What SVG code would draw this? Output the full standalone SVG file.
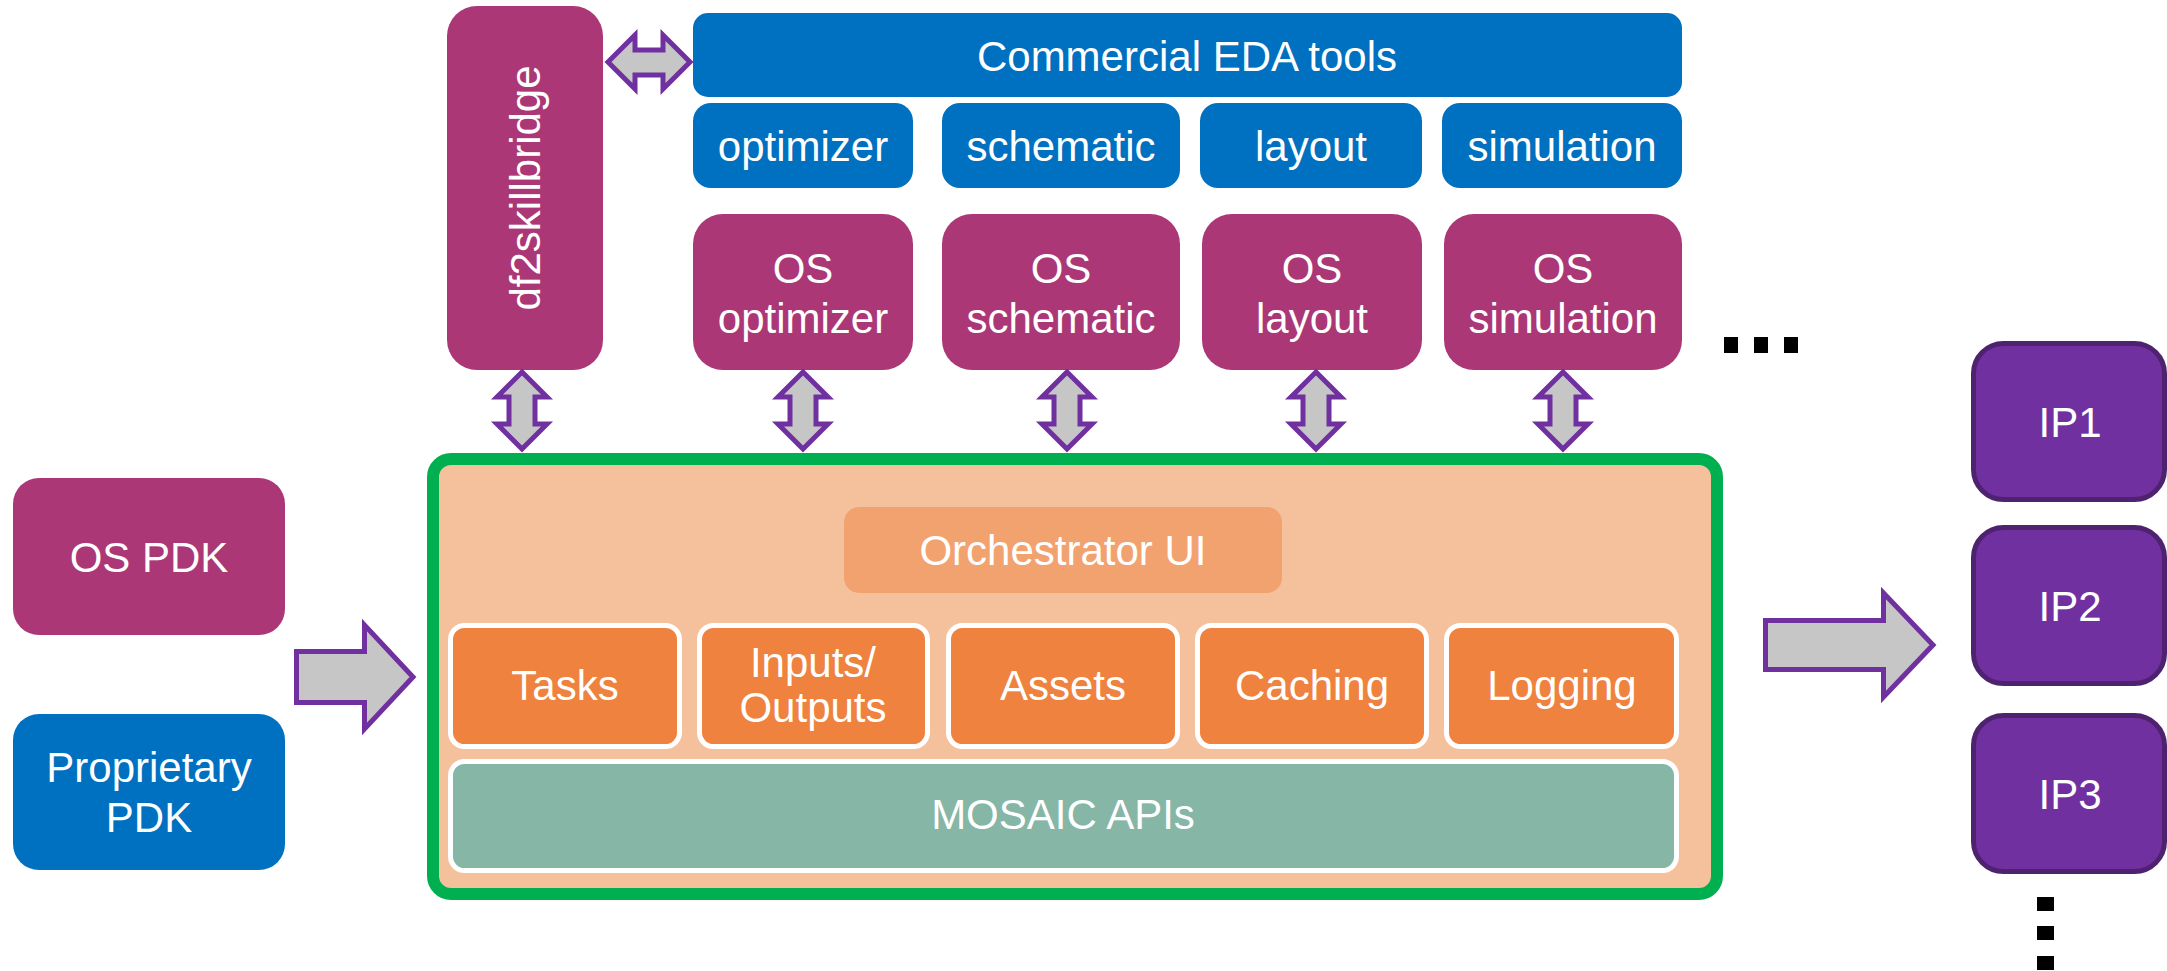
<svg xmlns="http://www.w3.org/2000/svg" xmlns:xlink="http://www.w3.org/1999/xlink" width="2167" height="971" viewBox="0 0 2167 971">
<style>
text{font-family:"Liberation Sans",Arial,sans-serif;font-size:42px;fill:#fff;text-anchor:middle}
.mag{fill:#AB3777}
.blue{fill:#0070C0}
.ip{fill:#7030A0;stroke:#4F2270;stroke-width:5}
.mod{fill:#EE823E;stroke:#fff;stroke-width:5}
.arr{fill:#C6C6C6;stroke:#7030A0;stroke-width:5;stroke-linejoin:miter}
.dot{fill:#000}
</style>
<defs>
<path id="vArrow" class="arr" d="M0,372 L25,397 L13,397 L13,424 L25,424 L0,449 L-25,424 L-13,424 L-13,397 L-25,397 Z"/>
</defs>
<rect width="2167" height="971" fill="#fff"/>

<g id="df2skillbridge">
<rect class="mag" x="447" y="6" width="156" height="364" rx="30"/>
<text transform="translate(540,188) rotate(-90)">df2skillbridge</text>
</g>

<g id="commercial">
<rect class="blue" x="693" y="13" width="989" height="84" rx="15"/>
<text x="1187" y="71">Commercial EDA tools</text>
</g>
<g id="optimizer"><rect class="blue" x="693" y="103" width="220" height="85" rx="18"/><text x="803" y="161">optimizer</text></g>
<g id="schematic"><rect class="blue" x="942" y="103" width="238" height="85" rx="18"/><text x="1061" y="161">schematic</text></g>
<g id="layout"><rect class="blue" x="1200" y="103" width="222" height="85" rx="18"/><text x="1311" y="161">layout</text></g>
<g id="simulation"><rect class="blue" x="1442" y="103" width="240" height="85" rx="18"/><text x="1562" y="161">simulation</text></g>

<g id="os-optimizer"><rect class="mag" x="693" y="214" width="220" height="156" rx="30"/><text x="803" y="283">OS</text><text x="803" y="333">optimizer</text></g>
<g id="os-schematic"><rect class="mag" x="942" y="214" width="238" height="156" rx="30"/><text x="1061" y="283">OS</text><text x="1061" y="333">schematic</text></g>
<g id="os-layout"><rect class="mag" x="1202" y="214" width="220" height="156" rx="30"/><text x="1312" y="283">OS</text><text x="1312" y="333">layout</text></g>
<g id="os-simulation"><rect class="mag" x="1444" y="214" width="238" height="156" rx="30"/><text x="1563" y="283">OS</text><text x="1563" y="333">simulation</text></g>

<g id="hdots">
<rect class="dot" x="1724" y="337" width="14" height="16"/>
<rect class="dot" x="1754" y="337" width="14" height="16"/>
<rect class="dot" x="1784" y="337" width="14" height="16"/>
</g>

<g id="os-pdk"><rect class="mag" x="13" y="478" width="272" height="157" rx="26"/><text x="149" y="572">OS PDK</text></g>
<g id="proprietary-pdk"><rect class="blue" x="13" y="714" width="272" height="156" rx="26"/><text x="149" y="782">Proprietary</text><text x="149" y="832">PDK</text></g>

<g id="orchestrator">
<rect x="433" y="459" width="1284" height="435" rx="18" fill="#F5C19C" stroke="#00B050" stroke-width="12"/>
<g id="orchestrator-ui"><rect x="844" y="507" width="438" height="86" rx="15" fill="#F2A26F"/><text x="1063" y="565">Orchestrator UI</text></g>
<g id="tasks"><rect class="mod" x="450.5" y="625.5" width="229" height="121" rx="14"/><text x="565" y="700">Tasks</text></g>
<g id="inputs-outputs"><rect class="mod" x="699.5" y="625.5" width="228" height="121" rx="14"/><text x="813" y="677">Inputs/</text><text x="813" y="722">Outputs</text></g>
<g id="assets"><rect class="mod" x="948.5" y="625.5" width="229" height="121" rx="14"/><text x="1063" y="700">Assets</text></g>
<g id="caching"><rect class="mod" x="1197.5" y="625.5" width="229" height="121" rx="14"/><text x="1312" y="700">Caching</text></g>
<g id="logging"><rect class="mod" x="1446.5" y="625.5" width="230" height="121" rx="14"/><text x="1562" y="700">Logging</text></g>
<g id="mosaic-apis"><rect x="450.5" y="761.5" width="1226" height="109" rx="14" fill="#86B6A6" stroke="#fff" stroke-width="5"/><text x="1063" y="829">MOSAIC APIs</text></g>
</g>

<g id="ip1"><rect class="ip" x="1973.5" y="343.5" width="191" height="156" rx="30"/><text x="2070" y="437">IP1</text></g>
<g id="ip2"><rect class="ip" x="1973.5" y="527.5" width="191" height="156" rx="30"/><text x="2070" y="621">IP2</text></g>
<g id="ip3"><rect class="ip" x="1973.5" y="715.5" width="191" height="156" rx="30"/><text x="2070" y="809">IP3</text></g>

<g id="vdots">
<rect class="dot" x="2037" y="897" width="17" height="14"/>
<rect class="dot" x="2037" y="926" width="17" height="14"/>
<rect class="dot" x="2037" y="956" width="17" height="14"/>
</g>

<g id="connectors">
<path class="arr" d="M608,62 L635,35 L635,50 L663,50 L663,35 L690,62 L663,89 L663,75 L635,75 L635,89 Z"/>
<use xlink:href="#vArrow" x="522"/>
<use xlink:href="#vArrow" x="803"/>
<use xlink:href="#vArrow" x="1067"/>
<use xlink:href="#vArrow" x="1316"/>
<use xlink:href="#vArrow" x="1563"/>
<path class="arr" d="M296.5,651.5 L364.5,651.5 L364.5,625 L413,677 L364.5,729 L364.5,702.5 L296.5,702.5 Z"/>
<path class="arr" d="M1765.5,620.5 L1883.5,620.5 L1883.5,593 L1933,645 L1883.5,697 L1883.5,669.5 L1765.5,669.5 Z"/>
</g>
</svg>
